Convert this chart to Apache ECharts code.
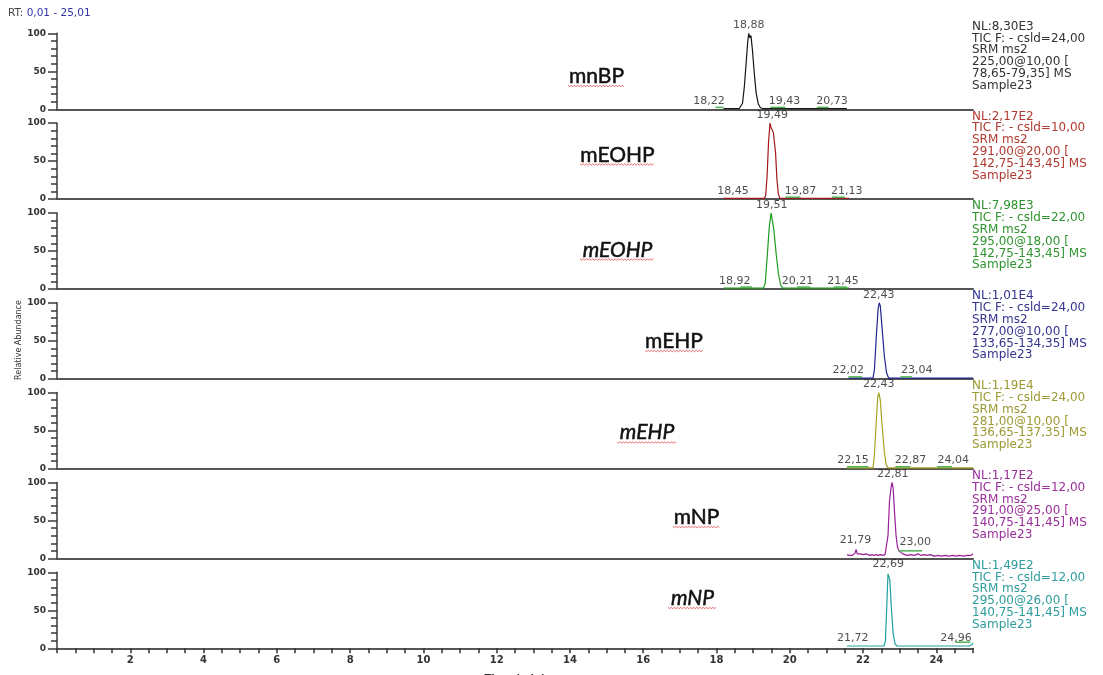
<!DOCTYPE html>
<html>
<head>
<meta charset="utf-8">
<script src="https://cdn.jsdelivr.net/npm/echarts/dist/echarts.min.js"></script>
<style>
html,body{margin:0;padding:0;background:#fff;}
#chart{width:1103px;height:675px;}
</style>
</head>
<body>
<div id="chart"></div>
<script>
// ---------------- DATA ----------------
const compoundNames = ['mnBP', 'mEOHP', 'mEOHP', 'mEHP', 'mEHP', 'mNP', 'mNP'];
const compoundItalic = [false, false, true, false, true, false, true];

const traceP1 = [[18.19,1],[18.62,1],[18.67,2],[18.71,8],[18.76,30],[18.81,62],[18.85,88],[18.88,100],[18.91,94],[18.94,97],[18.98,78],[19.03,48],[19.08,22],[19.14,7],[19.2,2],[19.26,1],[21.56,1]];
const traceP2 = [[18.19,1],[19.3,1],[19.34,4],[19.38,30],[19.42,75],[19.46,100],[19.49,94],[19.52,96],[19.55,88],[19.58,90],[19.61,62],[19.65,25],[19.69,6],[19.73,1],[21.61,1]];
const traceP3 = [[18.19,1],[19.28,1],[19.33,8],[19.38,40],[19.44,82],[19.49,100],[19.52,98],[19.57,76],[19.63,45],[19.69,20],[19.75,5],[19.81,1],[21.61,1]];
const traceP4 = [[21.6,0.8],[22.27,0.8],[22.31,12],[22.36,55],[22.41,92],[22.44,100],[22.47,96],[22.52,66],[22.58,30],[22.64,8],[22.7,0.8],[25,0.8]];
const traceP5 = [[21.56,1],[22.27,1],[22.31,18],[22.36,62],[22.4,94],[22.43,100],[22.47,90],[22.52,56],[22.58,22],[22.63,5],[22.68,1],[25,1]];
const traceP6 = [[21.56,5],[21.62,4],[21.66,6],[21.7,4],[21.74,5],[21.78,7],[21.81,12],[21.84,6],[21.88,5],[21.92,6],[21.96,4],[22.0,5],[22.04,4],[22.08,6],[22.12,5],[22.18,4],[22.24,5],[22.3,4],[22.36,5],[22.42,4],[22.48,5],[22.54,4],[22.6,5],[22.65,6],[22.68,30],[22.72,75],[22.76,92],[22.79,100],[22.82,93],[22.86,60],[22.9,30],[22.94,15],[22.98,10],[23.03,8],[23.08,6],[23.14,5],[23.2,4],[23.3,5],[23.4,4],[23.5,6],[23.58,4],[23.66,5],[23.74,4],[23.84,5],[23.94,3],[24.04,4],[24.14,3],[24.24,4],[24.34,3],[24.44,4],[24.54,3],[24.64,4],[24.74,3],[24.84,4],[24.94,4],[25.0,6]];
const traceP7 = [[21.56,3],[22.57,3],[22.61,10],[22.65,60],[22.68,98],[22.7,100],[22.73,90],[22.77,55],[22.82,20],[22.87,6],[22.92,3],[24.9,3],[24.97,5],[25.0,7]];
const traces = [traceP1, traceP2, traceP3, traceP4, traceP5, traceP6, traceP7];

// [text, time, level, anchor]
const labelsP1 = [['18,88',18.88,100,'peak'],['18,22',18.22,1,'r'],['19,43',19.43,1,'l'],['20,73',20.73,1,'l']];
const labelsP2 = [['19,49',19.52,100,'peak'],['18,45',18.45,1,'c'],['19,87',19.87,1,'l'],['21,13',21.13,1,'l']];
const labelsP3 = [['19,51',19.51,100,'peak'],['18,92',18.92,1,'r'],['20,21',20.21,1,'c'],['21,45',21.45,1,'c']];
const labelsP4 = [['22,43',22.43,100,'peak'],['22,02',22.02,1,'r'],['23,04',23.04,1,'l']];
const labelsP5 = [['22,43',22.43,100,'peak'],['22,15',22.15,1,'r'],['22,87',22.87,1,'l'],['24,04',24.04,1,'l']];
const labelsP6 = [['22,81',22.81,100,'peak'],['21,79',21.79,14,'c'],['23,00',23.0,11,'l']];
const labelsP7 = [['22,69',22.69,100,'peak'],['21,72',21.72,3,'c'],['24,96',24.96,3,'r']];
const peakLabels = [labelsP1, labelsP2, labelsP3, labelsP4, labelsP5, labelsP6, labelsP7];

// integration markers [tStart, tEnd, level]
const markersP1 = [[17.97,18.19,2.5],[19.47,19.88,2.5],[20.74,21.06,2.5]];
const markersP2 = [[19.88,20.29,2.5],[21.15,21.51,2.5]];
const markersP3 = [[18.65,18.97,2.5],[20.2,20.56,2.5],[21.2,21.56,2.5]];
const markersP4 = [[21.6,21.97,2.5],[23.02,23.33,2.5]];
const markersP5 = [[21.56,22.15,2.5],[22.88,23.29,2.5],[24.02,24.43,2.5]];
const markersP6 = [[22.97,23.61,10]];
const markersP7 = [[24.52,24.93,8]];
const markers = [markersP1, markersP2, markersP3, markersP4, markersP5, markersP6, markersP7];

const infoP1 = ['NL:8,30E3','TIC F: - csld=24,00','SRM ms2','225,00@10,00 [','78,65-79,35] MS','Sample23'];
const infoP2 = ['NL:2,17E2','TIC F: - csld=10,00','SRM ms2','291,00@20,00 [','142,75-143,45] MS','Sample23'];
const infoP3 = ['NL:7,98E3','TIC F: - csld=22,00','SRM ms2','295,00@18,00 [','142,75-143,45] MS','Sample23'];
const infoP4 = ['NL:1,01E4','TIC F: - csld=24,00','SRM ms2','277,00@10,00 [','133,65-134,35] MS','Sample23'];
const infoP5 = ['NL:1,19E4','TIC F: - csld=24,00','SRM ms2','281,00@10,00 [','136,65-137,35] MS','Sample23'];
const infoP6 = ['NL:1,17E2','TIC F: - csld=12,00','SRM ms2','291,00@25,00 [','140,75-141,45] MS','Sample23'];
const infoP7 = ['NL:1,49E2','TIC F: - csld=12,00','SRM ms2','295,00@26,00 [','140,75-141,45] MS','Sample23'];
const infoTexts = [infoP1, infoP2, infoP3, infoP4, infoP5, infoP6, infoP7];

const xTickLabels = [2, 4, 6, 8, 10, 12, 14, 16, 18, 20, 22, 24];
const yTickLabels = [0, 50, 100];

// ---------------- STYLE / LAYOUT ----------------
const traceColors = ['#151515', '#a31818', '#1f9a1f', '#24248f', '#a6a420', '#982098', '#20a0a0'];
const textColors = ['#333333', '#b03a30', '#2f942f', '#34348f', '#9c9a34', '#9a2e9a', '#2e9c9c'];
const markerColor = '#4cb050';
const nameLayout = [ // [centerX, middleY, underlineWidth, underlineY]
  [596.5, 76, 57, 85.5], [617.5, 155.5, 75, 164], [617.5, 250.5, 75, 259],
  [674, 341, 58, 350.5], [647, 432.5, 60, 442], [696.5, 517.5, 47, 526.5], [692.5, 598, 49, 607.5]
];
const gridLeft = 57, gridRight = 130, firstTop = 33.3, step = 89.83, gridH = 76;
const numFont = 'DejaVu Sans';

const chart = echarts.init(document.getElementById('chart'), null, {renderer: 'canvas'});

const grids = [], xAxes = [], yAxes = [], series = [], graphics = [];

function markerRender(params, api) {
  const p1 = api.coord([api.value(0), api.value(2)]);
  const p2 = api.coord([api.value(1), api.value(2)]);
  return {type: 'line', shape: {x1: p1[0], y1: p1[1], x2: p2[0], y2: p2[1]},
          style: {stroke: markerColor, lineWidth: 1.5}};
}

for (let i = 0; i < 7; i++) {
  const top = firstTop + step * i;
  const last = i === 6;
  grids.push({left: gridLeft, right: gridRight, top: top, height: gridH, containLabel: false, outerBoundsMode: 'none'});
  xAxes.push({
    gridIndex: i, type: 'value', min: 0, max: 25, interval: 0.5,
    axisLine: {show: true, onZero: false, lineStyle: {color: '#555', width: 2}},
    axisTick: {show: last, length: 5, lineStyle: {color: '#333', width: 1.5}},
    axisLabel: {show: last, margin: 7, fontSize: 10, fontWeight: 'bold', color: '#333', fontFamily: numFont,
      formatter: v => (xTickLabels.indexOf(v) >= 0 ? String(v) : '')},
    splitLine: {show: false},
    name: last ? 'Time (min)' : '', nameLocation: 'middle', nameGap: 26,
    nameTextStyle: {fontSize: 10, fontWeight: 'bold', color: '#333', fontFamily: numFont}
  });
  yAxes.push({
    gridIndex: i, type: 'value', min: 0, max: 100, interval: 50,
    axisLine: {show: true, lineStyle: {color: '#3a3a3a', width: 1.5}},
    axisTick: {show: true, length: 9, lineStyle: {color: '#3a3a3a', width: 1.5}},
    minorTick: {show: true, splitNumber: 5, length: 6, lineStyle: {color: '#3a3a3a', width: 1.5}},
    splitLine: {show: false},
    axisLabel: {fontSize: 9, fontWeight: 'bold', color: '#333', margin: 11, fontFamily: numFont,
      formatter: v => (yTickLabels.indexOf(v) >= 0 ? String(v) : '')}
  });
  series.push({
    type: 'line', xAxisIndex: i, yAxisIndex: i, data: traces[i], showSymbol: false, symbol: 'none',
    lineStyle: {color: traceColors[i], width: 1.2}, silent: true, animation: false, z: 3
  });
  series.push({
    type: 'custom', xAxisIndex: i, yAxisIndex: i, data: markers[i], renderItem: markerRender,
    encode: {x: [0, 1], y: 2}, silent: true, animation: false, z: 4
  });
  series.push({
    type: 'scatter', xAxisIndex: i, yAxisIndex: i, symbolSize: 0, silent: true, animation: false, z: 5,
    data: peakLabels[i].map(l => {
      const dx = l[3] === 'l' ? 15.5 : (l[3] === 'r' ? -15.5 : 0);
      return {value: [l[1], l[2]], label: {show: true, formatter: l[0], position: 'top',
        distance: l[3] === 'peak' ? 2.5 : 2, offset: [dx, 0], color: '#222', fontSize: 11, fontFamily: numFont}};
    })
  });
  // info text block on the right
  graphics.push({type: 'text', x: 972, y: top - 12.5, silent: true,
    style: {text: infoTexts[i].join('\n'), fill: textColors[i], font: '12px "DejaVu Sans"',
      lineHeight: 11.8, verticalAlign: 'top', textVerticalAlign: 'top', align: 'left', textAlign: 'left'}});
  // compound name
  const nl = nameLayout[i];
  graphics.push({type: 'text', x: nl[0], y: nl[1], silent: true,
    style: {text: compoundNames[i], fill: '#111', stroke: '#111', lineWidth: 0.5,
      font: (compoundItalic[i] ? 'italic ' : '') + '21px Lato',
      align: 'center', textAlign: 'center', verticalAlign: 'middle', textVerticalAlign: 'middle'}});
  const pts = [];
  const x0 = nl[0] - nl[2] / 2;
  for (let k = 0; k * 1.6 <= nl[2]; k++) pts.push([x0 + k * 1.6, nl[3] + (k % 2 ? 1.2 : -0.2)]);
  graphics.push({type: 'polyline', silent: true, shape: {points: pts},
    style: {stroke: '#e54848', lineWidth: 0.8, fill: null}});
}

graphics.push({type: 'text', x: 8, y: 13, silent: true,
  style: {text: '{a|RT:} {b|0,01 - 25,01}', verticalAlign: 'middle', textVerticalAlign: 'middle',
    rich: {a: {fill: '#444', color: '#444', fontSize: 10.5, fontFamily: numFont},
           b: {fill: '#3434a8', color: '#3434a8', fontSize: 10.5, fontFamily: numFont}}}});
graphics.push({type: 'text', x: 19, y: 340, rotation: Math.PI / 2, silent: true,
  style: {text: 'Relative Abundance', fill: '#333', font: '8px "DejaVu Sans"',
    align: 'center', textAlign: 'center', verticalAlign: 'middle', textVerticalAlign: 'middle'}});

chart.setOption({
  animation: false,
  backgroundColor: '#ffffff',
  grid: grids, xAxis: xAxes, yAxis: yAxes, series: series, graphic: graphics
});
</script>
</body>
</html>
